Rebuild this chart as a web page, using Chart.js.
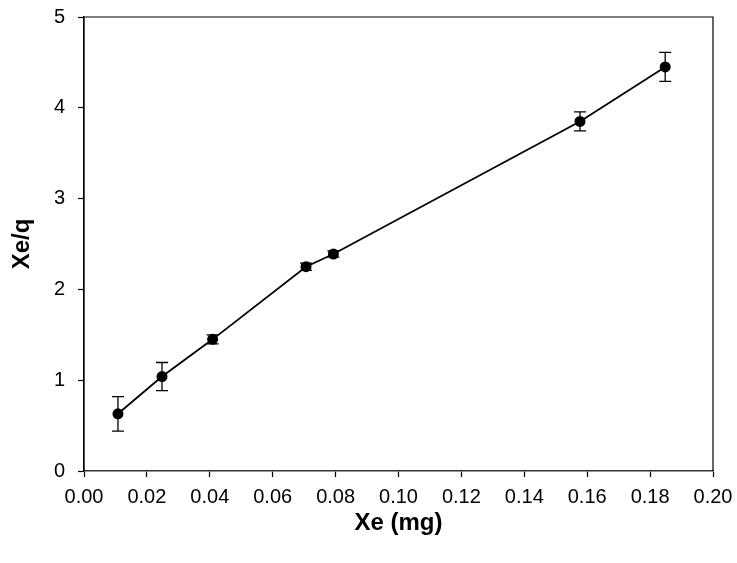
<!DOCTYPE html>
<html>
<head>
<meta charset="utf-8">
<script src="https://cdn.jsdelivr.net/npm/chart.js@4/dist/chart.umd.min.js"></script>
<style>
  html, body { margin: 0; padding: 0; background: #ffffff; }
  #wrap { width: 737px; height: 563px; }
</style>
</head>
<body>
<div id="wrap"><canvas id="c" width="737" height="563"></canvas></div>
<script>
// Data
const xeValues = [0.0108, 0.0248, 0.0409, 0.0706, 0.0793, 0.1577, 0.1848];
const xeqValues = [0.63, 1.04, 1.45, 2.25, 2.39, 3.85, 4.45];
const xeqErrors = [0.19, 0.155, 0.05, 0.04, 0.035, 0.105, 0.16];
const xTickStep = 0.02;
const yTickStep = 1;

const FONT = "'Liberation Sans', Arial, sans-serif";

const points = xeValues.map((x, i) => ({ x: x, y: xeqValues[i] }));

const errorBarPlugin = {
  id: 'errorBars',
  beforeDatasetsDraw(chart) {
    const { ctx, scales } = chart;
    const xs = scales.x, ys = scales.y;
    ctx.save();
    ctx.strokeStyle = '#000';
    ctx.lineWidth = 1.3;
    const cap = 6;
    xeValues.forEach((x, i) => {
      const px = xs.getPixelForValue(x);
      const pTop = ys.getPixelForValue(xeqValues[i] + xeqErrors[i]);
      const pBot = ys.getPixelForValue(xeqValues[i] - xeqErrors[i]);
      ctx.beginPath();
      ctx.moveTo(px, pTop); ctx.lineTo(px, pBot);
      ctx.moveTo(px - cap, pTop); ctx.lineTo(px + cap, pTop);
      ctx.moveTo(px - cap, pBot); ctx.lineTo(px + cap, pBot);
      ctx.stroke();
    });
    ctx.restore();
  }
};

const framePlugin = {
  id: 'frame',
  afterDraw(chart) {
    const { ctx, chartArea: a } = chart;
    ctx.save();
    ctx.strokeStyle = '#000';
    ctx.lineWidth = 1.2;
    ctx.beginPath();
    ctx.moveTo(a.left, a.bottom);
    ctx.lineTo(a.left, a.top);
    ctx.lineTo(a.right, a.top);
    ctx.lineTo(a.right, a.bottom);
    ctx.stroke();
    ctx.restore();
  }
};

new Chart(document.getElementById('c'), {
  type: 'scatter',
  data: {
    datasets: [{
      data: points,
      showLine: true,
      borderColor: '#000',
      borderWidth: 1.8,
      pointRadius: 5.5,
      pointHoverRadius: 5.5,
      pointBackgroundColor: '#000',
      pointBorderColor: '#000',
      pointBorderWidth: 0
    }]
  },
  options: {
    responsive: false,
    animation: false,
    events: [],
    layout: { padding: { top: 17, right: 24, left: 0, bottom: 0 } },
    plugins: { legend: { display: false }, tooltip: { enabled: false } },
    scales: {
      x: {
        type: 'linear',
        min: 0, max: 0.2,
        afterFit(scale) { scale.height = 92; scale.paddingLeft = 0; scale.paddingRight = 0; },
        afterBuildTicks(scale) {
          const t = [];
          for (let i = 0; i <= 10; i++) t.push({ value: +(i * xTickStep).toFixed(2) });
          scale.ticks = t;
        },
        ticks: {
          color: '#000',
          font: { family: FONT, size: 20 },
          padding: 8,
          maxRotation: 0,
          callback: v => Number(v).toFixed(2)
        },
        grid: { display: true, drawOnChartArea: false, drawTicks: true, tickLength: 6, color: '#000', tickWidth: 1.2 },
        border: { display: true, color: '#333', width: 1.6 },
        title: {
          display: true, text: 'Xe (mg)', color: '#000',
          font: { family: FONT, size: 24, weight: 'bold' },
          padding: { top: 0, bottom: 25 }
        }
      },
      y: {
        type: 'linear',
        min: 0, max: 5,
        afterFit(scale) { scale.width = 84; scale.paddingTop = 0; scale.paddingBottom = 0; },
        afterBuildTicks(scale) {
          const t = [];
          for (let i = 0; i <= 5; i++) t.push({ value: i * yTickStep });
          scale.ticks = t;
        },
        ticks: {
          color: '#000',
          font: { family: FONT, size: 20 },
          padding: 13,
          callback: v => String(v)
        },
        grid: { display: true, drawOnChartArea: false, drawTicks: true, tickLength: 6, color: '#000', tickWidth: 1.2 },
        border: { display: true, color: '#000', width: 1.2 },
        title: {
          display: true, text: 'Xe/q', color: '#000',
          font: { family: FONT, size: 24, weight: 'bold' },
          padding: { top: 8, bottom: 0 }
        }
      }
    }
  },
  plugins: [errorBarPlugin, framePlugin]
});
</script>
</body>
</html>
